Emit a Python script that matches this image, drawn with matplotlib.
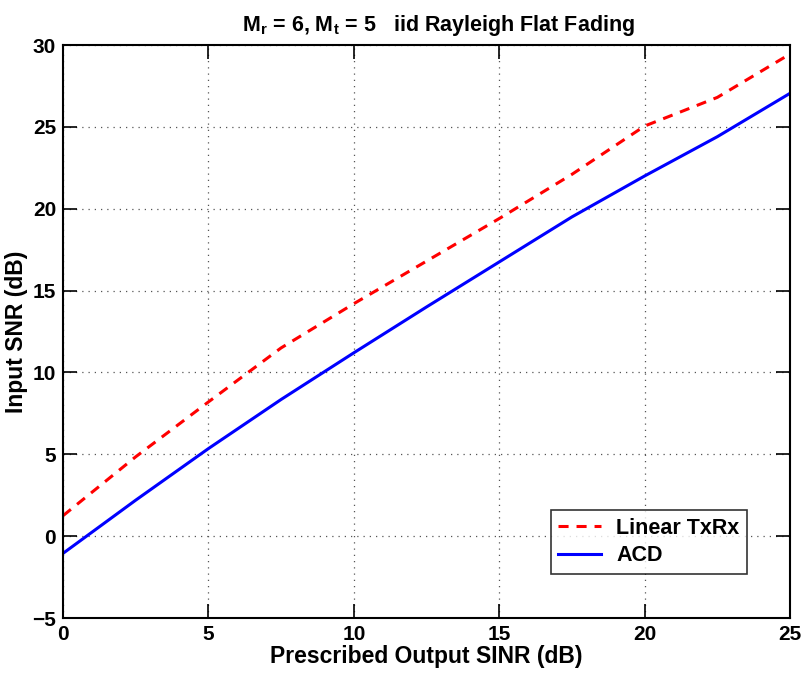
import matplotlib
matplotlib.use("Agg")
import matplotlib.pyplot as plt

sinr = [0, 2.5, 5, 7.5, 10, 12.5, 15, 17.5, 20, 22.5, 25]
linear_txrx = [1.25, 4.85, 8.2, 11.5, 14.2, 16.8, 19.4, 22.1, 25.05, 26.8, 29.45]
acd = [-1.05, 2.2, 5.35, 8.35, 11.2, 14.0, 16.75, 19.5, 22.0, 24.4, 27.05]

xticks = [0, 5, 10, 15, 20, 25]
yticks = [-5, 0, 5, 10, 15, 20, 25, 30]

plt.rcParams['font.family'] = ['Liberation Sans', 'DejaVu Sans']
plt.rcParams['font.weight'] = 'bold'
plt.rcParams['mathtext.fontset'] = 'custom'
plt.rcParams['mathtext.rm'] = 'Liberation Sans:bold'
plt.rcParams['mathtext.bf'] = 'Liberation Sans:bold'
plt.rcParams['mathtext.default'] = 'bf'

fig = plt.figure(figsize=(8.04, 6.82), dpi=100)
ax = fig.add_axes([0.0784, 0.0938, 0.9042, 0.8402])

ax.plot(sinr, linear_txrx, color='#ff0000', lw=2.2, linestyle=(0, (3.3, 2.6)), label='Linear TxRx')
ax.plot(sinr, acd, color='#0000ff', lw=2.2, linestyle='-', label='ACD')

ax.set_xlim(0, 25)
ax.set_ylim(-5, 30)
ax.set_xticks(xticks)
ax.set_yticks(yticks)
ax.set_yticklabels(['\u22125' if t < 0 else str(t) for t in yticks])
ax.tick_params(direction='in', length=10, width=1.2, top=True, right=True,
               labelsize=15, pad=5)
for lab in ax.get_xticklabels() + ax.get_yticklabels():
    lab.set_fontweight('bold')
for s in ax.spines.values():
    s.set_linewidth(1.5)

ax.grid(True, linestyle=(0, (1, 4)), color='#555555', linewidth=0.9)

ax.set_xlabel('Prescribed Output SINR (dB)', fontsize=16.5, fontweight='bold', labelpad=1)
ax.set_ylabel('Input SNR (dB)', fontsize=16.5, fontweight='bold', labelpad=3)
ax.set_title(r'M$_{r}$ = 6, M$_{t}$ = 5   iid Rayleigh Flat Fading',
             fontsize=15.5, fontweight='bold', pad=10, x=0.517)

leg = ax.legend(loc='lower right', bbox_to_anchor=(0.941, 0.077), borderaxespad=0,
                fontsize=15.5, frameon=True, fancybox=False, edgecolor='black',
                handlelength=2.0, borderpad=0.35, labelspacing=0.3, handletextpad=0.7)
leg.get_frame().set_linewidth(1.2)
for t in leg.get_texts():
    t.set_fontweight('bold')

fig.savefig('out.png', dpi=100)
